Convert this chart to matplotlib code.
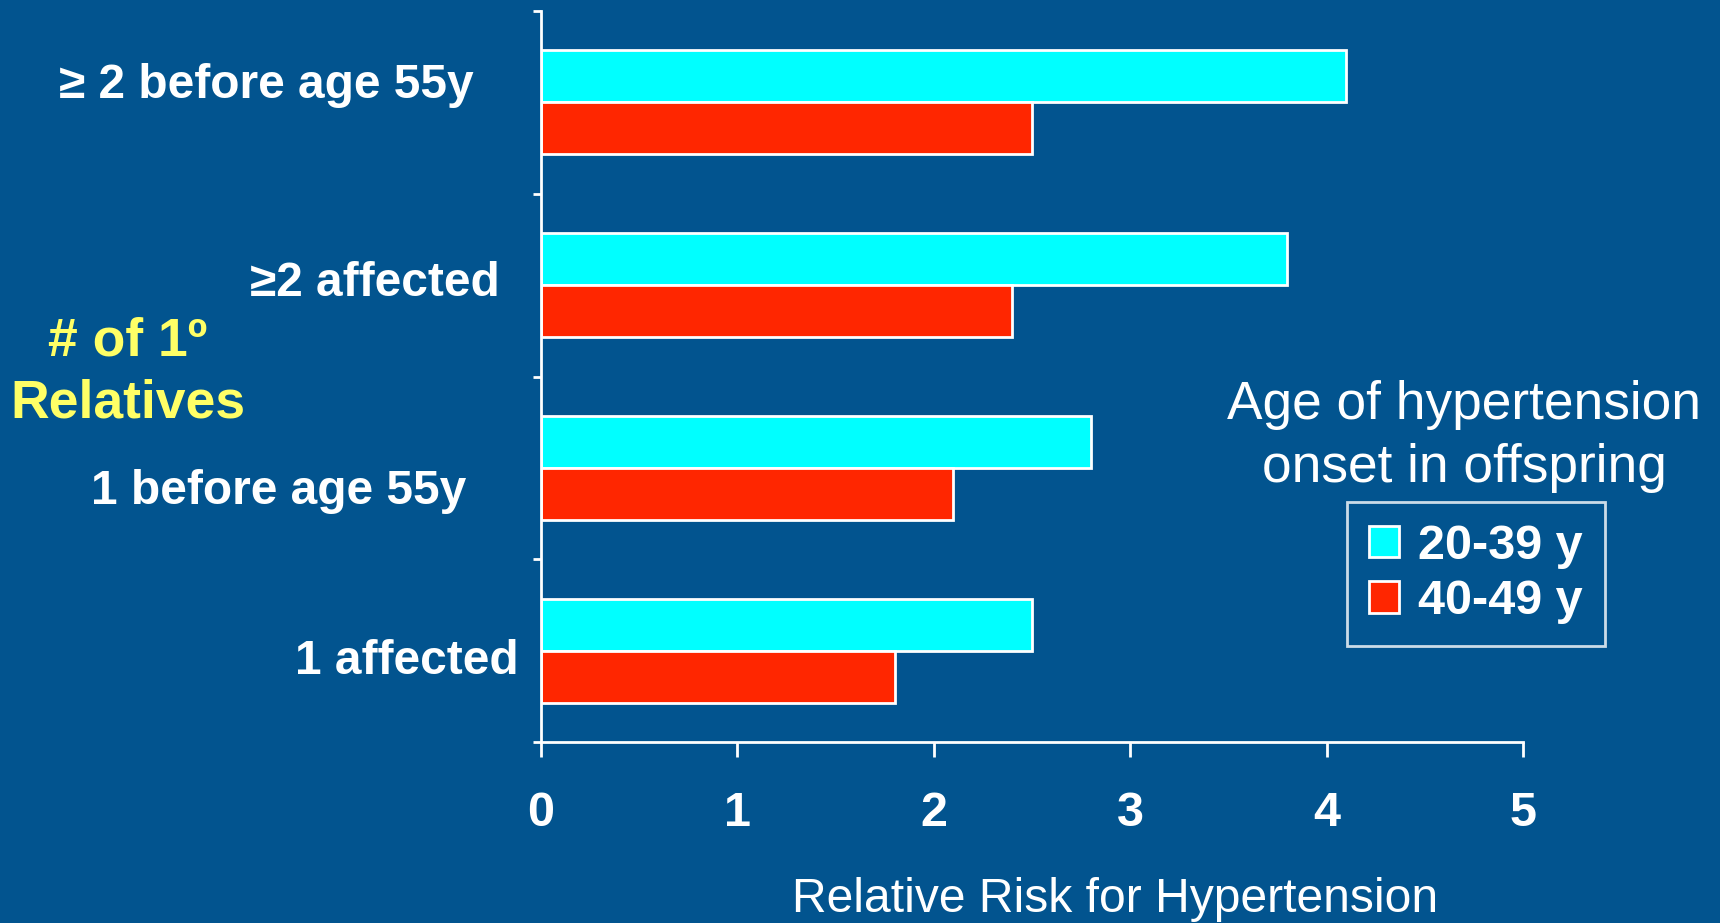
import numpy as np
import matplotlib.pyplot as plt
from matplotlib.patches import Patch

plt.rcParams['font.family'] = ['Liberation Sans', 'DejaVu Sans']

# Relative risk by number of affected first-degree relatives
categories = ['\u2265 2 before age 55y', '\u22652 affected', '1 before age 55y', '1 affected']
rr_20_39 = [4.1, 3.8, 2.8, 2.5]
rr_40_49 = [2.5, 2.4, 2.1, 1.8]
series_names = ['20-39 y', '40-49 y']
xticks = [0, 1, 2, 3, 4, 5]

BG = '#02548F'
CYAN = '#00FFFF'
RED = '#FF2600'
YELLOW = '#FFFF66'

W, H = 1720, 923
fig = plt.figure(figsize=(W / 100, H / 100), dpi=100, facecolor=BG)
# axes box in pixel terms: left 541, right 1523, top 11, bottom 742
ax = fig.add_axes([541 / W, 1 - 742 / H, (1523 - 541) / W, (742 - 11) / H])
ax.set_facecolor(BG)

y = np.arange(len(categories))
h = 0.285
ax.barh(y - h / 2, rr_20_39, height=h, color=CYAN, edgecolor='white', linewidth=2,
        label=series_names[0])
ax.barh(y + h / 2, rr_40_49, height=h, color=RED, edgecolor='white', linewidth=2,
        label=series_names[1])

ax.set_xlim(0, 5)
ax.set_ylim(len(categories) - 0.5, -0.5)
ax.set_xticks(xticks)
ax.set_xticklabels([str(t) for t in xticks], fontsize=35, fontweight='bold', color='white')
ax.set_yticks(np.arange(-0.5, len(categories), 1.0))
ax.set_yticklabels([])
ax.tick_params(axis='x', colors='white', length=11, width=2, pad=24)
ax.tick_params(axis='y', colors='white', length=6, width=2)
for side in ['top', 'right']:
    ax.spines[side].set_visible(False)
for side in ['left', 'bottom']:
    ax.spines[side].set_color('white')
    ax.spines[side].set_linewidth(2)

# category labels, each placed on its own like slide text boxes
label_pos = [(474, 86), (500, 284), (466, 491), (519, 661)]
for name, (px, py) in zip(categories, label_pos):
    fig.text(px / W, 1 - py / H, name, ha='right', va='center', fontsize=34.5,
             fontweight='bold', color='white')

fig.text(128 / W, 1 - 341 / H, '# of 1\u00ba', ha='center', va='center', fontsize=38.5,
         fontweight='bold', color=YELLOW)
fig.text(128 / W, 1 - 404 / H, 'Relatives', ha='center', va='center', fontsize=38.5,
         fontweight='bold', color=YELLOW)

fig.text(1464 / W, 1 - 405 / H, 'Age of hypertension', ha='center', va='center',
         fontsize=38.3, color='white')
fig.text(1464 / W, 1 - 468 / H, 'onset in offspring', ha='center', va='center',
         fontsize=38.3, color='white')

fig.text(1115 / W, 1 - 900 / H, 'Relative Risk for Hypertension', ha='center', va='center',
         fontsize=34.6, color='white')

handles = [Patch(facecolor=CYAN, edgecolor='white', linewidth=2),
           Patch(facecolor=RED, edgecolor='white', linewidth=2)]
leg = fig.legend(handles, series_names, loc='center', bbox_to_anchor=(1476 / W, 1 - 574 / H),
                 frameon=True, fancybox=False, facecolor=BG, edgecolor='white',
                 prop={'size': 35, 'weight': 'bold'}, labelcolor='white',
                 handlelength=0.62, handleheight=0.62, handletextpad=0.4,
                 labelspacing=0.22, borderpad=0.45, borderaxespad=0)
leg.get_frame().set_linewidth(2)

fig.savefig('out.png', dpi=100, facecolor=BG)
